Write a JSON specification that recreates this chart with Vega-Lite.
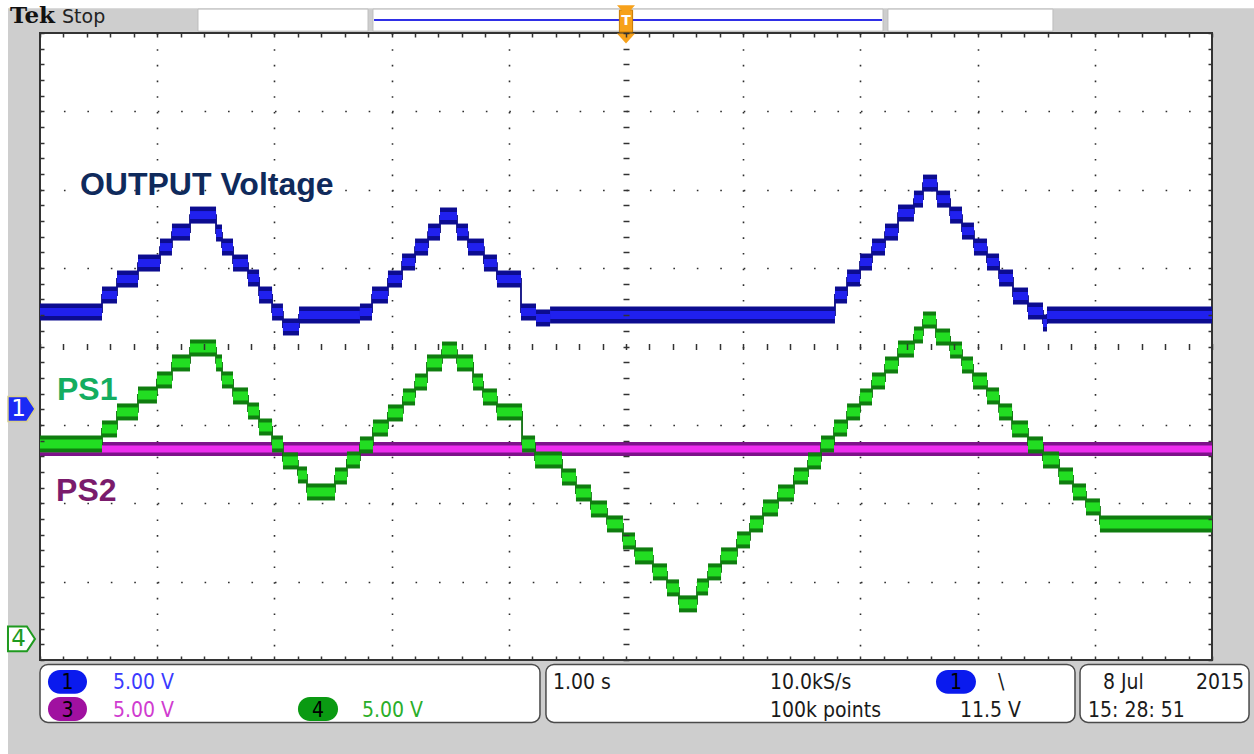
{
  "$schema": "https://vega.github.io/schema/vega-lite/v6.json",
  "width": 1172,
  "height": 627,
  "autosize": {"type": "none"},
  "padding": {"left": 40, "top": 33, "right": 42, "bottom": 94},
  "background": "#cecece",
  "config": {"view": {"fill": "#ffffff", "stroke": "#333333", "strokeWidth": 2}},
  "resolve": {"axis": {"x": "independent", "y": "independent"}},
  "datasets": {
    "blue": [{"t":0,"t2":0.529,"v":0.44},{"t":0.529,"t2":0.657,"v":0.657},{"t":0.657,"t2":0.836,"v":0.861},{"t":0.836,"t2":1.024,"v":1.065},{"t":1.024,"t2":1.126,"v":1.269},{"t":1.126,"t2":1.28,"v":1.46},{"t":1.28,"t2":1.502,"v":1.677},{"t":1.502,"t2":1.553,"v":1.448},{"t":1.553,"t2":1.647,"v":1.269},{"t":1.647,"t2":1.775,"v":1.065},{"t":1.775,"t2":1.869,"v":0.874},{"t":1.869,"t2":1.98,"v":0.657},{"t":1.98,"t2":2.073,"v":0.44},{"t":2.073,"t2":2.21,"v":0.249},{"t":2.21,"t2":2.73,"v":0.402},{"t":2.73,"t2":2.833,"v":0.44},{"t":2.833,"t2":2.969,"v":0.657},{"t":2.969,"t2":3.089,"v":0.861},{"t":3.089,"t2":3.2,"v":1.078},{"t":3.2,"t2":3.311,"v":1.269},{"t":3.311,"t2":3.413,"v":1.46},{"t":3.413,"t2":3.558,"v":1.665},{"t":3.558,"t2":3.652,"v":1.46},{"t":3.652,"t2":3.788,"v":1.269},{"t":3.788,"t2":3.899,"v":1.065},{"t":3.899,"t2":4.104,"v":0.861},{"t":4.104,"t2":4.232,"v":0.44},{"t":4.232,"t2":4.352,"v":0.364},{"t":4.352,"t2":6.783,"v":0.402},{"t":6.783,"t2":6.886,"v":0.657},{"t":6.886,"t2":6.997,"v":0.874},{"t":6.997,"t2":7.099,"v":1.078},{"t":7.099,"t2":7.21,"v":1.269},{"t":7.21,"t2":7.321,"v":1.46},{"t":7.321,"t2":7.457,"v":1.703},{"t":7.457,"t2":7.534,"v":1.881},{"t":7.534,"t2":7.654,"v":2.085},{"t":7.654,"t2":7.765,"v":1.881},{"t":7.765,"t2":7.867,"v":1.677},{"t":7.867,"t2":7.969,"v":1.473},{"t":7.969,"t2":8.08,"v":1.269},{"t":8.08,"t2":8.183,"v":1.078},{"t":8.183,"t2":8.302,"v":0.874},{"t":8.302,"t2":8.43,"v":0.644},{"t":8.43,"t2":8.558,"v":0.453},{"t":8.558,"t2":8.592,"v":0.3},{"t":8.592,"t2":10,"v":0.402},{"t":10,"t2":10,"v":0.402}],
    "green": [{"t":0,"t2":0.529,"v":-1.244},{"t":0.529,"t2":0.657,"v":-1.052},{"t":0.657,"t2":0.836,"v":-0.835},{"t":0.836,"t2":0.998,"v":-0.619},{"t":0.998,"t2":1.126,"v":-0.427},{"t":1.126,"t2":1.28,"v":-0.21},{"t":1.28,"t2":1.502,"v":-0.019},{"t":1.502,"t2":1.553,"v":-0.21},{"t":1.553,"t2":1.647,"v":-0.427},{"t":1.647,"t2":1.775,"v":-0.631},{"t":1.775,"t2":1.869,"v":-0.823},{"t":1.869,"t2":1.98,"v":-1.027},{"t":1.98,"t2":2.073,"v":-1.244},{"t":2.073,"t2":2.201,"v":-1.46},{"t":2.201,"t2":2.278,"v":-1.639},{"t":2.278,"t2":2.517,"v":-1.856},{"t":2.517,"t2":2.619,"v":-1.652},{"t":2.619,"t2":2.73,"v":-1.448},{"t":2.73,"t2":2.841,"v":-1.256},{"t":2.841,"t2":2.969,"v":-1.04},{"t":2.969,"t2":3.097,"v":-0.848},{"t":3.097,"t2":3.2,"v":-0.644},{"t":3.2,"t2":3.302,"v":-0.453},{"t":3.302,"t2":3.43,"v":-0.21},{"t":3.43,"t2":3.558,"v":-0.045},{"t":3.558,"t2":3.695,"v":-0.21},{"t":3.695,"t2":3.78,"v":-0.453},{"t":3.78,"t2":3.899,"v":-0.644},{"t":3.899,"t2":4.113,"v":-0.835},{"t":4.113,"t2":4.224,"v":-1.244},{"t":4.224,"t2":4.454,"v":-1.448},{"t":4.454,"t2":4.573,"v":-1.665},{"t":4.573,"t2":4.701,"v":-1.869},{"t":4.701,"t2":4.838,"v":-2.073},{"t":4.838,"t2":4.974,"v":-2.264},{"t":4.974,"t2":5.077,"v":-2.481},{"t":5.077,"t2":5.23,"v":-2.672},{"t":5.23,"t2":5.35,"v":-2.876},{"t":5.35,"t2":5.452,"v":-3.08},{"t":5.452,"t2":5.606,"v":-3.284},{"t":5.606,"t2":5.7,"v":-3.068},{"t":5.7,"t2":5.811,"v":-2.876},{"t":5.811,"t2":5.947,"v":-2.672},{"t":5.947,"t2":6.058,"v":-2.468},{"t":6.058,"t2":6.169,"v":-2.264},{"t":6.169,"t2":6.297,"v":-2.06},{"t":6.297,"t2":6.433,"v":-1.869},{"t":6.433,"t2":6.553,"v":-1.652},{"t":6.553,"t2":6.664,"v":-1.46},{"t":6.664,"t2":6.775,"v":-1.244},{"t":6.775,"t2":6.886,"v":-1.04},{"t":6.886,"t2":6.997,"v":-0.835},{"t":6.997,"t2":7.099,"v":-0.644},{"t":7.099,"t2":7.21,"v":-0.44},{"t":7.21,"t2":7.321,"v":-0.236},{"t":7.321,"t2":7.457,"v":-0.032},{"t":7.457,"t2":7.534,"v":0.147},{"t":7.534,"t2":7.645,"v":0.338},{"t":7.645,"t2":7.765,"v":0.121},{"t":7.765,"t2":7.867,"v":-0.045},{"t":7.867,"t2":7.961,"v":-0.236},{"t":7.961,"t2":8.08,"v":-0.44},{"t":8.08,"t2":8.183,"v":-0.631},{"t":8.183,"t2":8.294,"v":-0.835},{"t":8.294,"t2":8.43,"v":-1.052},{"t":8.43,"t2":8.558,"v":-1.256},{"t":8.558,"t2":8.695,"v":-1.448},{"t":8.695,"t2":8.814,"v":-1.652},{"t":8.814,"t2":8.925,"v":-1.856},{"t":8.925,"t2":9.044,"v":-2.047},{"t":9.044,"t2":10,"v":-2.264},{"t":10,"t2":10,"v":-2.264}],
    "magenta": [{"t":0,"t2":10,"v":-1.307},{"t":10,"t2":10,"v":-1.307}],
    "labels": [{"t":0.341,"v":1.932,"label":"OUTPUT Voltage","kind":"OUTPUT"},{"t":0.145,"v":-0.682,"label":"PS1","kind":"PS1"},{"t":0.137,"v":-1.976,"label":"PS2","kind":"PS2"}],
    "readouts": [{"t":0.623,"v":-4.368,"label":"5.00 V","kind":"ch1"},{"t":0.623,"v":-4.726,"label":"5.00 V","kind":"ch3"},{"t":2.747,"v":-4.726,"label":"5.00 V","kind":"ch4"},{"t":4.377,"v":-4.368,"label":"1.00 s","kind":"black"},{"t":6.229,"v":-4.368,"label":"10.0kS/s","kind":"black"},{"t":6.229,"v":-4.726,"label":"100k points","kind":"black"},{"t":8.174,"v":-4.368,"label":"\\","kind":"black"},{"t":7.85,"v":-4.726,"label":"11.5 V","kind":"black"},{"t":9.07,"v":-4.368,"label":"8 Jul","kind":"black"},{"t":9.863,"v":-4.368,"label":"2015","kind":"black"},{"t":8.942,"v":-4.726,"label":"15: 28: 51","kind":"black"}],
    "badges": [{"t":0.068,"t2":0.401,"v":-4.126,"v2":-4.432,"tc":0.235,"vb":-4.368,"num":"1","kind":"badge1"},{"t":0.068,"t2":0.401,"v":-4.471,"v2":-4.777,"tc":0.235,"vb":-4.726,"num":"3","kind":"badge3"},{"t":2.201,"t2":2.543,"v":-4.471,"v2":-4.777,"tc":2.372,"vb":-4.726,"num":"4","kind":"badge4"},{"t":7.645,"t2":7.986,"v":-4.126,"v2":-4.432,"tc":7.816,"vb":-4.368,"num":"1","kind":"badge1"}],
    "boxes": [{"t":0,"t2":4.266,"v":-4.056,"v2":-4.796},{"t":4.317,"t2":8.831,"v":-4.056,"v2":-4.796},{"t":8.874,"t2":10.316,"v":-4.056,"v2":-4.796}],
    "topboxes": [{"t":1.348,"t2":2.799,"v":4.305,"v2":4.024},{"t":2.841,"t2":7.193,"v":4.305,"v2":4.024},{"t":7.235,"t2":8.643,"v":4.305,"v2":4.024}],
    "strips": [{"t":-0.36,"t2":10.4,"v":4.43,"v2":4.316},{"t":-0.36,"t2":-0.273,"v":4.43,"v2":-5.2}],
    "record": [{"t":2.85,"t2":7.185,"v":4.165}],
    "header": [{"t":-0.256,"v":4.126,"label":"Tek"},{"t":0.188,"v":4.126,"label":"Stop"}],
    "chmarkers": [{"t":-0.158,"v":-0.797,"ch":"1"},{"t":-0.158,"v":-3.731,"ch":"4"}],
    "trig": [{"t":5,"v":4.152,"part":"box"},{"t":5,"v":4.29,"part":"top"},{"t":5,"v":3.93,"part":"tip"}]
  },
  "layer": [
    {
      "data": {"name": "strips"},
      "mark": {"type": "rect", "fill": "#ffffff"},
      "encoding": {
        "x": {"field": "t", "type": "quantitative", "scale": {"domain": [0, 10], "nice": false, "zero": false}, "axis": null},
        "x2": {"field": "t2"},
        "y": {"field": "v", "type": "quantitative", "scale": {"domain": [-4, 4], "nice": false, "zero": false}, "axis": null},
        "y2": {"field": "v2"}
      }
    },
    {
      "data": {"name": "topboxes"},
      "mark": {"type": "rect", "fill": "#ffffff", "stroke": "#bdbdbd", "strokeWidth": 1},
      "encoding": {
        "x": {"field": "t", "type": "quantitative", "axis": null},
        "x2": {"field": "t2"},
        "y": {"field": "v", "type": "quantitative", "axis": null},
        "y2": {"field": "v2"}
      }
    },
    {
      "data": {"name": "boxes"},
      "mark": {"type": "rect", "fill": "#ffffff", "stroke": "#4a4a4a", "strokeWidth": 1.5, "cornerRadius": 8},
      "encoding": {
        "x": {"field": "t", "type": "quantitative", "axis": null},
        "x2": {"field": "t2"},
        "y": {"field": "v", "type": "quantitative", "axis": null},
        "y2": {"field": "v2"}
      }
    },
    {
      "data": {"name": "magenta"},
      "mark": {"type": "rule", "strokeWidth": 14, "color": "#7d128a", "strokeCap": "butt"},
      "encoding": {
        "x": {"field": "t", "type": "quantitative", "axis": {"orient": "bottom", "values": [1, 2, 3, 4, 6, 7, 8, 9], "grid": true, "gridColor": "#2e2e2e", "gridWidth": 1.6, "gridDash": [1.6, 14.075], "ticks": false, "labels": false, "domain": false, "title": null, "zindex": 0}},
        "x2": {"field": "t2"},
        "y": {"field": "v", "type": "quantitative", "axis": {"orient": "left", "values": [-3, -2, -1, 1, 2, 3], "grid": true, "gridColor": "#2e2e2e", "gridWidth": 1.6, "gridDash": [1.6, 21.84], "ticks": false, "labels": false, "domain": false, "title": null, "zindex": 0}}
      }
    },
    {
      "data": {"name": "magenta"},
      "mark": {"type": "rule", "strokeWidth": 7, "color": "#ee2cee", "strokeCap": "butt"},
      "encoding": {
        "x": {"field": "t", "type": "quantitative", "axis": null},
        "x2": {"field": "t2"},
        "y": {"field": "v", "type": "quantitative", "axis": null}
      }
    },
    {
      "data": {"name": "green"},
      "mark": {"type": "line", "interpolate": "step-after", "strokeWidth": 1.8, "color": "#0d6f0d"},
      "encoding": {
        "x": {"field": "t", "type": "quantitative", "axis": null},
        "y": {"field": "v", "type": "quantitative", "axis": null}
      }
    },
    {
      "data": {"name": "green"},
      "mark": {"type": "rule", "strokeWidth": 17, "color": "#0f7d0f", "strokeCap": "butt"},
      "encoding": {
        "x": {"field": "t", "type": "quantitative", "axis": {"orient": "top", "values": [0,0.2,0.4,0.6,0.8,1,1.2,1.4,1.6,1.8,2,2.2,2.4,2.6,2.8,3,3.2,3.4,3.6,3.8,4,4.2,4.4,4.6,4.8,5,5.2,5.4,5.6,5.8,6,6.2,6.4,6.6,6.8,7,7.2,7.4,7.6,7.8,8,8.2,8.4,8.6,8.8,9,9.2,9.4,9.6,9.8,10], "offset": -4, "tickSize": 4, "tickColor": "#333333", "tickWidth": 1.5, "labels": false, "domain": false, "grid": false, "title": null, "zindex": 1}},
        "x2": {"field": "t2"},
        "y": {"field": "v", "type": "quantitative", "axis": {"orient": "left", "values": [-4,-3.8,-3.6,-3.4,-3.2,-3,-2.8,-2.6,-2.4,-2.2,-2,-1.8,-1.6,-1.4,-1.2,-1,-0.8,-0.6,-0.4,-0.2,0,0.2,0.4,0.6,0.8,1,1.2,1.4,1.6,1.8,2,2.2,2.4,2.6,2.8,3,3.2,3.4,3.6,3.8,4], "offset": -4, "tickSize": 4, "tickColor": "#333333", "tickWidth": 1.5, "labels": false, "domain": false, "grid": false, "title": null, "zindex": 1}}
      }
    },
    {
      "data": {"name": "green"},
      "mark": {"type": "rule", "strokeWidth": 9, "color": "#22dd22", "strokeCap": "butt"},
      "encoding": {
        "x": {"field": "t", "type": "quantitative", "axis": {"orient": "bottom", "values": [0,0.2,0.4,0.6,0.8,1,1.2,1.4,1.6,1.8,2,2.2,2.4,2.6,2.8,3,3.2,3.4,3.6,3.8,4,4.2,4.4,4.6,4.8,5,5.2,5.4,5.6,5.8,6,6.2,6.4,6.6,6.8,7,7.2,7.4,7.6,7.8,8,8.2,8.4,8.6,8.8,9,9.2,9.4,9.6,9.8,10], "offset": -4, "tickSize": 4, "tickColor": "#333333", "tickWidth": 1.5, "labels": false, "domain": false, "grid": false, "title": null, "zindex": 1}},
        "x2": {"field": "t2"},
        "y": {"field": "v", "type": "quantitative", "axis": {"orient": "right", "values": [-4,-3.8,-3.6,-3.4,-3.2,-3,-2.8,-2.6,-2.4,-2.2,-2,-1.8,-1.6,-1.4,-1.2,-1,-0.8,-0.6,-0.4,-0.2,0,0.2,0.4,0.6,0.8,1,1.2,1.4,1.6,1.8,2,2.2,2.4,2.6,2.8,3,3.2,3.4,3.6,3.8,4], "offset": -4, "tickSize": 4, "tickColor": "#333333", "tickWidth": 1.5, "labels": false, "domain": false, "grid": false, "title": null, "zindex": 1}}
      }
    },
    {
      "data": {"name": "blue"},
      "mark": {"type": "line", "interpolate": "step-after", "strokeWidth": 1.8, "color": "#0a0a80"},
      "encoding": {
        "x": {"field": "t", "type": "quantitative", "axis": null},
        "y": {"field": "v", "type": "quantitative", "axis": null}
      }
    },
    {
      "data": {"name": "blue"},
      "mark": {"type": "rule", "strokeWidth": 17, "color": "#0c0c90", "strokeCap": "butt"},
      "encoding": {
        "x": {"field": "t", "type": "quantitative", "axis": {"orient": "bottom", "values": [0,0.2,0.4,0.6,0.8,1,1.2,1.4,1.6,1.8,2,2.2,2.4,2.6,2.8,3,3.2,3.4,3.6,3.8,4,4.2,4.4,4.6,4.8,5,5.2,5.4,5.6,5.8,6,6.2,6.4,6.6,6.8,7,7.2,7.4,7.6,7.8,8,8.2,8.4,8.6,8.8,9,9.2,9.4,9.6,9.8,10], "offset": -316.5, "tickSize": 6, "tickColor": "#333333", "tickWidth": 1.5, "labels": false, "domain": false, "grid": false, "title": null, "zindex": 1}},
        "x2": {"field": "t2"},
        "y": {"field": "v", "type": "quantitative", "axis": {"orient": "left", "values": [-4,-3.8,-3.6,-3.4,-3.2,-3,-2.8,-2.6,-2.4,-2.2,-2,-1.8,-1.6,-1.4,-1.2,-1,-0.8,-0.6,-0.4,-0.2,0,0.2,0.4,0.6,0.8,1,1.2,1.4,1.6,1.8,2,2.2,2.4,2.6,2.8,3,3.2,3.4,3.6,3.8,4], "offset": -589, "tickSize": 6, "tickColor": "#333333", "tickWidth": 1.5, "labels": false, "domain": false, "grid": false, "title": null, "zindex": 1}}
      }
    },
    {
      "data": {"name": "blue"},
      "mark": {"type": "rule", "strokeWidth": 8, "color": "#2020ee", "strokeCap": "butt"},
      "encoding": {
        "x": {"field": "t", "type": "quantitative", "axis": null},
        "x2": {"field": "t2"},
        "y": {"field": "v", "type": "quantitative", "axis": null}
      }
    },
    {
      "mark": {"type": "rule", "color": "#3c3c3c", "strokeWidth": 2},
      "encoding": {"x": {"datum": 5, "type": "quantitative", "axis": null}}
    },
    {
      "mark": {"type": "rule", "color": "#3c3c3c", "strokeWidth": 2},
      "encoding": {"y": {"datum": 0, "type": "quantitative", "axis": null}}
    },
    {
      "data": {"name": "labels"},
      "mark": {"type": "text", "font": "Liberation Sans", "fontWeight": "bold", "fontSize": 32, "align": "left", "baseline": "alphabetic"},
      "encoding": {
        "x": {"field": "t", "type": "quantitative", "axis": null},
        "y": {"field": "v", "type": "quantitative", "axis": null},
        "text": {"field": "label"},
        "color": {"field": "kind", "type": "nominal", "legend": null, "scale": {"domain": ["OUTPUT", "PS1", "PS2", "ch1", "ch3", "ch4", "black", "badge1", "badge3", "badge4"], "range": ["#0f2a5c", "#14ad60", "#7a1b6c", "#3a3aff", "#d03cd0", "#2aae2a", "#1a1a1a", "#0a1aee", "#a010a0", "#0a9a12"]}}
      }
    },
    {
      "data": {"name": "readouts"},
      "mark": {"type": "text", "font": "DejaVu Sans Condensed", "fontSize": 21, "align": "left", "baseline": "alphabetic"},
      "encoding": {
        "x": {"field": "t", "type": "quantitative", "axis": null},
        "y": {"field": "v", "type": "quantitative", "axis": null},
        "text": {"field": "label"},
        "color": {"field": "kind", "type": "nominal", "legend": null}
      }
    },
    {
      "data": {"name": "badges"},
      "mark": {"type": "rect", "cornerRadius": 12},
      "encoding": {
        "x": {"field": "t", "type": "quantitative", "axis": null},
        "x2": {"field": "t2"},
        "y": {"field": "v", "type": "quantitative", "axis": null},
        "y2": {"field": "v2"},
        "color": {"field": "kind", "type": "nominal", "legend": null}
      }
    },
    {
      "data": {"name": "badges"},
      "mark": {"type": "text", "font": "DejaVu Sans Condensed", "fontSize": 21, "align": "center", "baseline": "alphabetic", "color": "#000000"},
      "encoding": {
        "x": {"field": "tc", "type": "quantitative", "axis": null},
        "y": {"field": "vb", "type": "quantitative", "axis": null},
        "text": {"field": "num"}
      }
    },
    {
      "data": {"name": "header"},
      "transform": [{"filter": "datum.label === 'Tek'"}],
      "mark": {"type": "text", "font": "DejaVu Serif", "fontWeight": "bold", "fontSize": 23, "align": "left", "baseline": "alphabetic", "color": "#111111"},
      "encoding": {
        "x": {"field": "t", "type": "quantitative", "axis": null},
        "y": {"field": "v", "type": "quantitative", "axis": null},
        "text": {"field": "label"}
      }
    },
    {
      "data": {"name": "header"},
      "transform": [{"filter": "datum.label === 'Stop'"}],
      "mark": {"type": "text", "font": "DejaVu Sans", "fontSize": 19, "align": "left", "baseline": "alphabetic", "color": "#222222"},
      "encoding": {
        "x": {"field": "t", "type": "quantitative", "axis": null},
        "y": {"field": "v", "type": "quantitative", "axis": null},
        "text": {"field": "label"}
      }
    },
    {
      "data": {"name": "record"},
      "mark": {"type": "rule", "color": "#2f2fe6", "strokeWidth": 2},
      "encoding": {
        "x": {"field": "t", "type": "quantitative", "axis": null},
        "x2": {"field": "t2"},
        "y": {"field": "v", "type": "quantitative", "axis": null}
      }
    },
    {
      "data": {"name": "chmarkers"},
      "transform": [{"filter": "datum.ch === '1'"}],
      "mark": {"type": "point", "shape": "M -1 -0.92 L 0.4 -0.92 L 1 0 L 0.4 0.92 L -1 0.92 Z", "size": 729, "filled": true, "fill": "#1a2af5", "stroke": "#d8d090", "strokeWidth": 1.5, "opacity": 1},
      "encoding": {
        "x": {"field": "t", "type": "quantitative", "axis": null},
        "y": {"field": "v", "type": "quantitative", "axis": null}
      }
    },
    {
      "data": {"name": "chmarkers"},
      "transform": [{"filter": "datum.ch === '4'"}],
      "mark": {"type": "point", "shape": "M -1 -0.92 L 0.4 -0.92 L 1 0 L 0.4 0.92 L -1 0.92 Z", "size": 729, "filled": true, "fill": "#ffffff", "stroke": "#1f9a1f", "strokeWidth": 2, "opacity": 1},
      "encoding": {
        "x": {"field": "t", "type": "quantitative", "axis": null},
        "y": {"field": "v", "type": "quantitative", "axis": null}
      }
    },
    {
      "data": {"name": "chmarkers"},
      "transform": [{"filter": "datum.ch === '1'"}],
      "mark": {"type": "text", "font": "DejaVu Sans", "fontSize": 23, "align": "center", "baseline": "middle", "color": "#ffffff", "dx": -3},
      "encoding": {
        "x": {"field": "t", "type": "quantitative", "axis": null},
        "y": {"field": "v", "type": "quantitative", "axis": null},
        "text": {"field": "ch"}
      }
    },
    {
      "data": {"name": "chmarkers"},
      "transform": [{"filter": "datum.ch === '4'"}],
      "mark": {"type": "text", "font": "DejaVu Sans", "fontSize": 23, "align": "center", "baseline": "middle", "color": "#1f9a1f", "dx": -3},
      "encoding": {
        "x": {"field": "t", "type": "quantitative", "axis": null},
        "y": {"field": "v", "type": "quantitative", "axis": null},
        "text": {"field": "ch"}
      }
    },
    {
      "data": {"name": "trig"},
      "transform": [{"filter": "datum.part === 'box'"}],
      "mark": {"type": "point", "shape": "M -0.6 -1 L 0.6 -1 L 0.6 1 L -0.6 1 Z", "size": 484, "filled": true, "fill": "#f7a11a", "stroke": "#c77a00", "strokeWidth": 1, "opacity": 1},
      "encoding": {
        "x": {"field": "t", "type": "quantitative", "axis": null},
        "y": {"field": "v", "type": "quantitative", "axis": null}
      }
    },
    {
      "data": {"name": "trig"},
      "transform": [{"filter": "datum.part !== 'box'"}],
      "mark": {"type": "point", "shape": "M -1 -0.55 L 1 -0.55 L 0 0.55 Z", "size": 324, "filled": true, "fill": "#f7a11a", "strokeWidth": 0, "opacity": 1},
      "encoding": {
        "x": {"field": "t", "type": "quantitative", "axis": null},
        "y": {"field": "v", "type": "quantitative", "axis": null}
      }
    },
    {
      "data": {"name": "trig"},
      "transform": [{"filter": "datum.part === 'box'"}],
      "mark": {"type": "text", "font": "DejaVu Sans", "fontWeight": "bold", "fontSize": 14, "align": "center", "baseline": "middle", "color": "#ffffff", "text": "T"},
      "encoding": {
        "x": {"field": "t", "type": "quantitative", "axis": null},
        "y": {"field": "v", "type": "quantitative", "axis": null}
      }
    }
  ]
}
